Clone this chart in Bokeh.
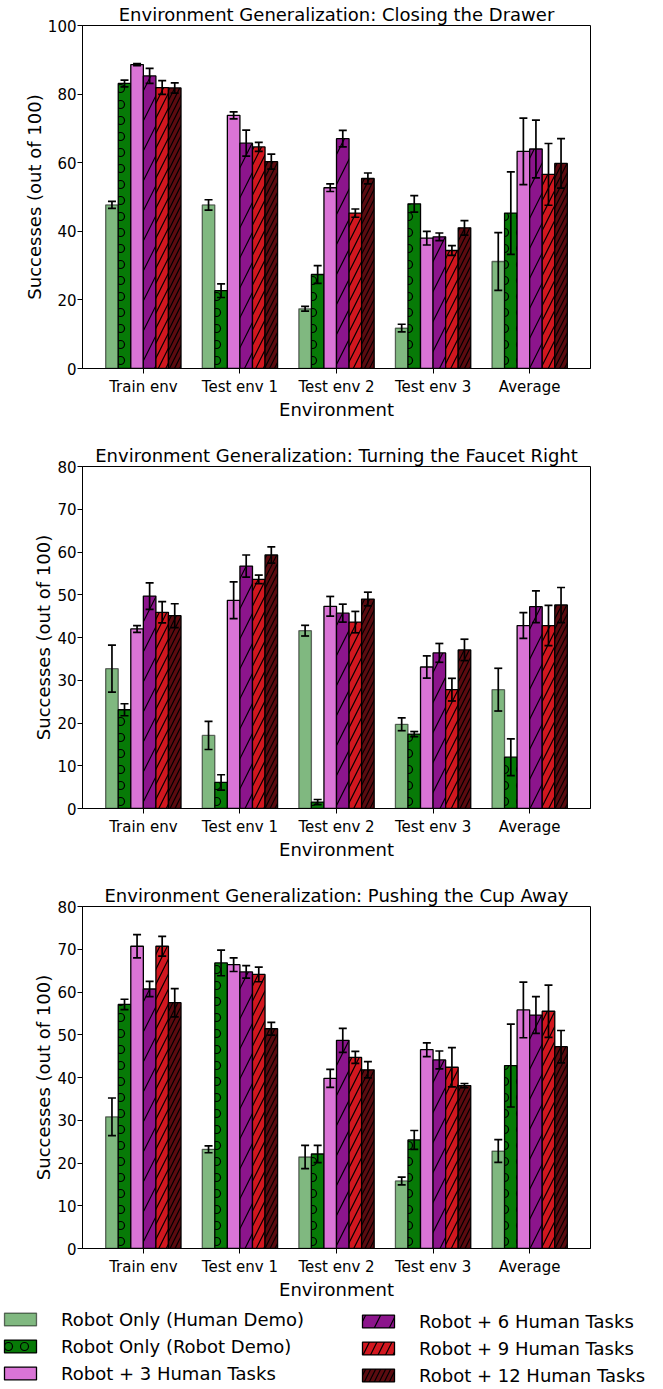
from bokeh.plotting import figure
from bokeh.models import (ColumnDataSource, Whisker, TeeHead, Range1d, FixedTicker,
                          Legend, LegendItem)
from bokeh.layouts import column
from bokeh.embed import file_html
from bokeh.resources import INLINE

environments = ["Train env", "Test env 1", "Test env 2", "Test env 3", "Average"]
series_names = ["Robot Only (Human Demo)", "Robot Only (Robot Demo)", "Robot + 3 Human Tasks",
                "Robot + 6 Human Tasks", "Robot + 9 Human Tasks", "Robot + 12 Human Tasks"]

# ---- Closing the Drawer ----
drawer_human_demo = [47.7, 47.7, 17.4, 11.8, 31.2]
drawer_human_demo_err = [1.0, 1.5, 0.7, 1.1, 8.4]
drawer_robot_demo = [83.1, 22.7, 27.4, 48.0, 45.3]
drawer_robot_demo_err = [1.0, 2.0, 2.6, 2.4, 12.0]
drawer_h3 = [88.6, 73.8, 52.7, 38.0, 63.3]
drawer_h3_err = [0.3, 1.0, 1.1, 2.0, 9.7]
drawer_h6 = [85.3, 65.7, 67.0, 38.4, 64.0]
drawer_h6_err = [2.2, 3.8, 2.4, 1.1, 8.4]
drawer_h9 = [81.9, 64.6, 45.3, 34.4, 56.6]
drawer_h9_err = [2.0, 1.3, 1.2, 1.4, 9.0]
drawer_h12 = [81.8, 60.3, 55.4, 41.0, 59.8]
drawer_h12_err = [1.5, 2.2, 1.6, 2.1, 7.2]

# ---- Turning the Faucet Right ----
faucet_human_demo = [32.7, 17.1, 41.6, 19.7, 27.8]
faucet_human_demo_err = [5.5, 3.3, 1.25, 1.5, 5.0]
faucet_robot_demo = [23.1, 6.1, 1.5, 17.4, 12.0]
faucet_robot_demo_err = [1.4, 1.8, 0.6, 0.6, 4.3]
faucet_h3 = [42.0, 48.7, 47.3, 33.1, 42.8]
faucet_h3_err = [0.8, 4.3, 2.3, 2.6, 3.0]
faucet_h6 = [49.7, 56.7, 45.7, 36.4, 47.2]
faucet_h6_err = [3.1, 2.6, 2.1, 2.2, 3.7]
faucet_h9 = [45.9, 53.6, 43.6, 27.8, 42.8]
faucet_h9_err = [2.5, 1.0, 2.5, 2.65, 4.7]
faucet_h12 = [45.1, 59.3, 49.0, 37.1, 47.6]
faucet_h12_err = [2.8, 1.9, 1.6, 2.5, 4.1]

# ---- Pushing the Cup Away ----
cup_human_demo = [30.8, 23.2, 21.4, 15.8, 22.8]
cup_human_demo_err = [4.4, 0.8, 2.7, 0.9, 2.65]
cup_robot_demo = [57.1, 66.8, 22.1, 25.4, 42.8]
cup_robot_demo_err = [1.2, 3.0, 2.0, 2.2, 9.7]
cup_h3 = [70.7, 66.4, 39.8, 46.5, 55.8]
cup_h3_err = [2.7, 1.6, 2.1, 1.6, 6.5]
cup_h6 = [60.7, 64.7, 48.7, 44.1, 54.6]
cup_h6_err = [1.8, 1.45, 2.8, 2.1, 4.3]
cup_h9 = [70.7, 64.1, 44.7, 42.4, 55.5]
cup_h9_err = [2.3, 1.7, 1.4, 4.6, 6.1]
cup_h12 = [57.5, 51.4, 41.8, 38.1, 47.2]
cup_h12_err = [3.3, 1.5, 1.9, 0.5, 3.8]

drawer_yticks = [0, 20, 40, 60, 80, 100]
faucet_yticks = [0, 10, 20, 30, 40, 50, 60, 70, 80]
cup_yticks = [0, 10, 20, 30, 40, 50, 60, 70, 80]

# ---- styles ----
FONT = "DejaVu Sans"
fill_colors = ["#80b880", "#077a07", "#da74d6", "#8c158c", "#d2171f", "#5c0b10"]
line_alphas = [0.55, 1, 1, 1, 1, 1]
hatches = [None, "o", None, "/", "/", "/"]
hatch_scales = [12, 16, 12, 30, 15, 10]
BAR_W = 0.13


def bar_style(k):
    kw = dict(fill_color=fill_colors[k], line_color="black", line_width=1.3,
              line_alpha=line_alphas[k])
    if hatches[k] is not None:
        kw.update(hatch_pattern=hatches[k], hatch_scale=hatch_scales[k],
                  hatch_color="black", hatch_weight=1.2)
    return kw


def make_sources(means, errs):
    n = len(means)
    out = []
    for k in range(n):
        xs = [i + (k - (n - 1) / 2) * BAR_W for i in range(len(environments))]
        out.append(ColumnDataSource(dict(
            x=xs, top=means[k],
            upper=[m + e for m, e in zip(means[k], errs[k])],
            lower=[m - e for m, e in zip(means[k], errs[k])])))
    return out


def make_fig(title, sources, ymax, yticks, bottom_border):
    p = figure(output_backend="svg", toolbar_location=None,
               frame_width=508, frame_height=343 if ymax == 100 else 342,
               x_range=Range1d(-0.63, 4.63), y_range=Range1d(0, ymax),
               min_border_left=82, min_border_right=57, min_border_top=21,
               min_border_bottom=bottom_border)
    p.title.text = title
    p.title.align = "center"
    p.title.text_font = FONT
    p.title.text_font_size = "18px"
    p.title.text_font_style = "normal"
    p.title.text_color = "black"
    p.title.standoff = 2
    p.xgrid.visible = False
    p.ygrid.visible = False
    p.outline_line_color = "black"
    p.outline_line_width = 1
    p.background_fill_color = "white"
    p.border_fill_color = "white"

    for k, src in enumerate(sources):
        p.vbar(x="x", top="top", bottom=0, width=BAR_W, source=src, **bar_style(k))
        w = Whisker(base="x", upper="upper", lower="lower", source=src,
                    line_color="black", line_width=1.7, level="overlay",
                    upper_head=TeeHead(size=8, line_width=1.7, line_color="black"),
                    lower_head=TeeHead(size=8, line_width=1.7, line_color="black"))
        p.add_layout(w)

    for ax in (p.xaxis[0], p.yaxis[0]):
        ax.axis_line_color = "black"
        ax.major_tick_line_color = "black"
        ax.major_tick_out = 5
        ax.major_tick_in = 0
        ax.minor_tick_line_color = None
        ax.major_label_text_font = FONT
        ax.major_label_text_font_size = "15px"
        ax.major_label_text_color = "black"
        ax.axis_label_text_font = FONT
        ax.axis_label_text_font_size = "18px"
        ax.axis_label_text_font_style = "normal"
        ax.axis_label_text_color = "black"
    p.xaxis.ticker = FixedTicker(ticks=list(range(len(environments))))
    p.xaxis.major_label_overrides = {i: e for i, e in enumerate(environments)}
    p.xaxis.axis_label = "Environment"
    p.xaxis.axis_label_standoff = 0
    p.xaxis.major_label_standoff = 4
    p.yaxis.ticker = FixedTicker(ticks=yticks)
    p.yaxis.axis_label = "Successes (out of 100)"
    p.yaxis.axis_label_standoff = 0
    p.yaxis.major_label_standoff = 1
    return p


drawer_src = make_sources(
    [drawer_human_demo, drawer_robot_demo, drawer_h3, drawer_h6, drawer_h9, drawer_h12],
    [drawer_human_demo_err, drawer_robot_demo_err, drawer_h3_err, drawer_h6_err,
     drawer_h9_err, drawer_h12_err])
faucet_src = make_sources(
    [faucet_human_demo, faucet_robot_demo, faucet_h3, faucet_h6, faucet_h9, faucet_h12],
    [faucet_human_demo_err, faucet_robot_demo_err, faucet_h3_err, faucet_h6_err,
     faucet_h9_err, faucet_h12_err])
cup_src = make_sources(
    [cup_human_demo, cup_robot_demo, cup_h3, cup_h6, cup_h9, cup_h12],
    [cup_human_demo_err, cup_robot_demo_err, cup_h3_err, cup_h6_err,
     cup_h9_err, cup_h12_err])

p1 = make_fig("Environment Generalization: Closing the Drawer", drawer_src, 100, drawer_yticks, 73)
p2 = make_fig("Environment Generalization: Turning the Faucet Right", faucet_src, 80, faucet_yticks, 73)
p3 = make_fig("Environment Generalization: Pushing the Cup Away", cup_src, 80, cup_yticks, 60)

# ---- legend strip: hidden renderers (cup data) only lend their swatch styles ----
pl = figure(output_backend="svg", toolbar_location=None, frame_width=647, frame_height=80,
            min_border=0, x_range=Range1d(-0.63, 4.63), y_range=Range1d(0, 80))
pl.axis.visible = False
pl.xgrid.visible = False
pl.ygrid.visible = False
pl.outline_line_color = None
pl.background_fill_color = "white"
pl.border_fill_color = "white"
items = []
for k, name in enumerate(series_names):
    r = pl.vbar(x="x", top="top", bottom=0, width=BAR_W, source=cup_src[k], **bar_style(k))
    r.visible = False
    items.append(LegendItem(label=name, renderers=[r]))

legend_kw = dict(label_text_font=FONT, label_text_font_size="18px",
                 label_text_color="black",
                 glyph_width=40, glyph_height=16, label_height=22,
                 label_standoff=21, spacing=5,
                 padding=0, margin=0, border_line_color=None,
                 background_fill_color=None, inactive_fill_alpha=0)
lg_left = Legend(items=items[:3], location="top_left", **legend_kw)
lg_right = Legend(items=items[3:], location=(358, 2), **legend_kw)
pl.add_layout(lg_left)
pl.add_layout(lg_right)

layout = column(p1, p2, p3, pl, spacing=0)
open("out.html", "w").write(file_html(layout, INLINE))
